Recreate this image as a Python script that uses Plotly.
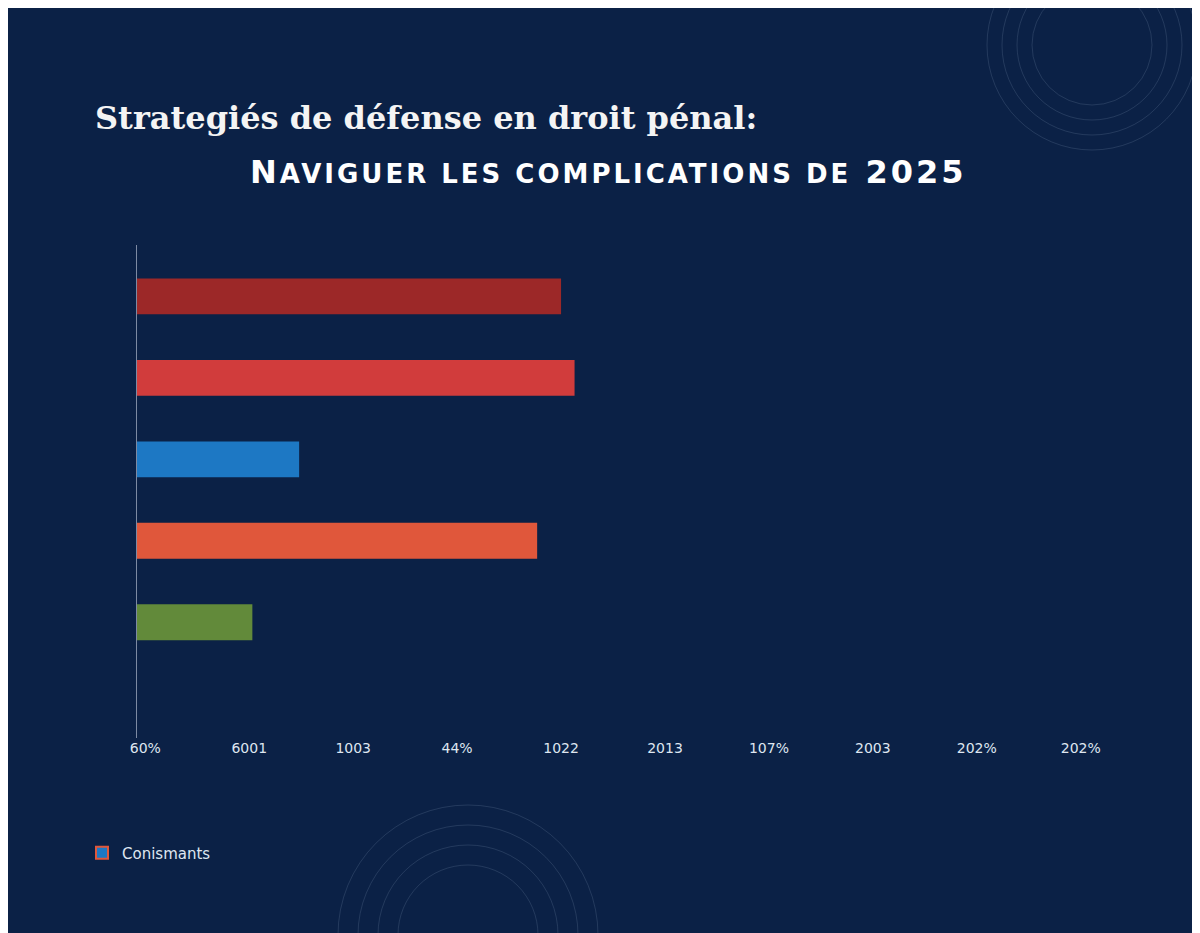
import plotly.graph_objects as go

strategies = ["Stratégie A", "Stratégie B", "Stratégie C", "Stratégie D", "Stratégie E"]
values = [4.08, 4.21, 1.56, 3.85, 1.11]
colors = ["#9c2828", "#d13c3c", "#1d78c4", "#e0573b", "#628a3a"]
tick_labels = ["60%", "6001", "1003", "44%", "1022", "2013", "107%", "2003", "202%", "202%"]

bg = "#0b2146"
# the page renders with an 8px body offset, compensate
off = 8
L, T, PW, PH = 137 - off, 245 - off, 977, 493

fig = go.Figure()
fig.add_trace(go.Bar(
    x=values, y=list(range(len(strategies))), orientation="h",
    marker=dict(color=colors, line=dict(width=0)), width=0.44,
    hovertext=strategies, showlegend=False,
))
# legend entry
fig.add_trace(go.Bar(x=[None], y=[None], name="Conismants",
                     marker=dict(color="#1d78c4", line=dict(color="#e0573b", width=2)),
                     showlegend=True))

fig.update_layout(
    width=1200, height=933,
    paper_bgcolor=bg, plot_bgcolor=bg,
    margin=dict(l=L, r=1200 - L - PW, t=T, b=933 - T - PH),
    xaxis=dict(range=[0, 9.4], tickvals=[0.08 + i for i in range(len(tick_labels))],
               ticktext=tick_labels, showgrid=False, zeroline=False, showline=False,
               tickfont=dict(family="DejaVu Sans", size=14, color="#dfe6f0"), ticks=""),
    yaxis=dict(range=[5.42, -0.63], showticklabels=False, showgrid=False, zeroline=False,
               showline=True, linecolor="#7d8aa3", linewidth=1),
    legend=dict(x=(74 - L) / PW, y=-0.2, xanchor="left", yanchor="top",
                font=dict(family="DejaVu Sans", size=15, color="#dfe6f0"),
                bgcolor="rgba(0,0,0,0)"),
    showlegend=True,
)

def px_x(x):
    return (x - off - L) / PW

def px_y(y):
    return (T + PH - (y - off)) / PH

fig.add_annotation(text="<b>Strategiés de défense en droit pénal:</b>", xref="paper", yref="paper",
                   x=px_x(93), y=px_y(118), xanchor="left", yanchor="middle",
                   showarrow=False, font=dict(family="DejaVu Serif", size=32, color="#f4f4f4"))
fig.add_annotation(
    text="<span style='letter-spacing:3px'><b>N<span style='font-size:26px'>AVIGUER LES COMPLICATIONS DE</span> 2025</b></span>",
    xref="paper", yref="paper", x=px_x(968), y=px_y(172),
    xanchor="right", yanchor="middle", showarrow=False,
    font=dict(family="DejaVu Sans", size=32, color="#ffffff"))

# faint decorative rings
for cx, cy, rs in [(1092, 45, [60, 75, 90, 105]), (468, 935, [70, 90, 110, 130])]:
    for r in rs:
        fig.add_shape(type="circle", xref="paper", yref="paper",
                      x0=px_x(cx - r), x1=px_x(cx + r),
                      y0=px_y(cy + r), y1=px_y(cy - r),
                      line=dict(color="rgba(150,170,200,0.18)", width=1))

fig.write_html("out.html")
